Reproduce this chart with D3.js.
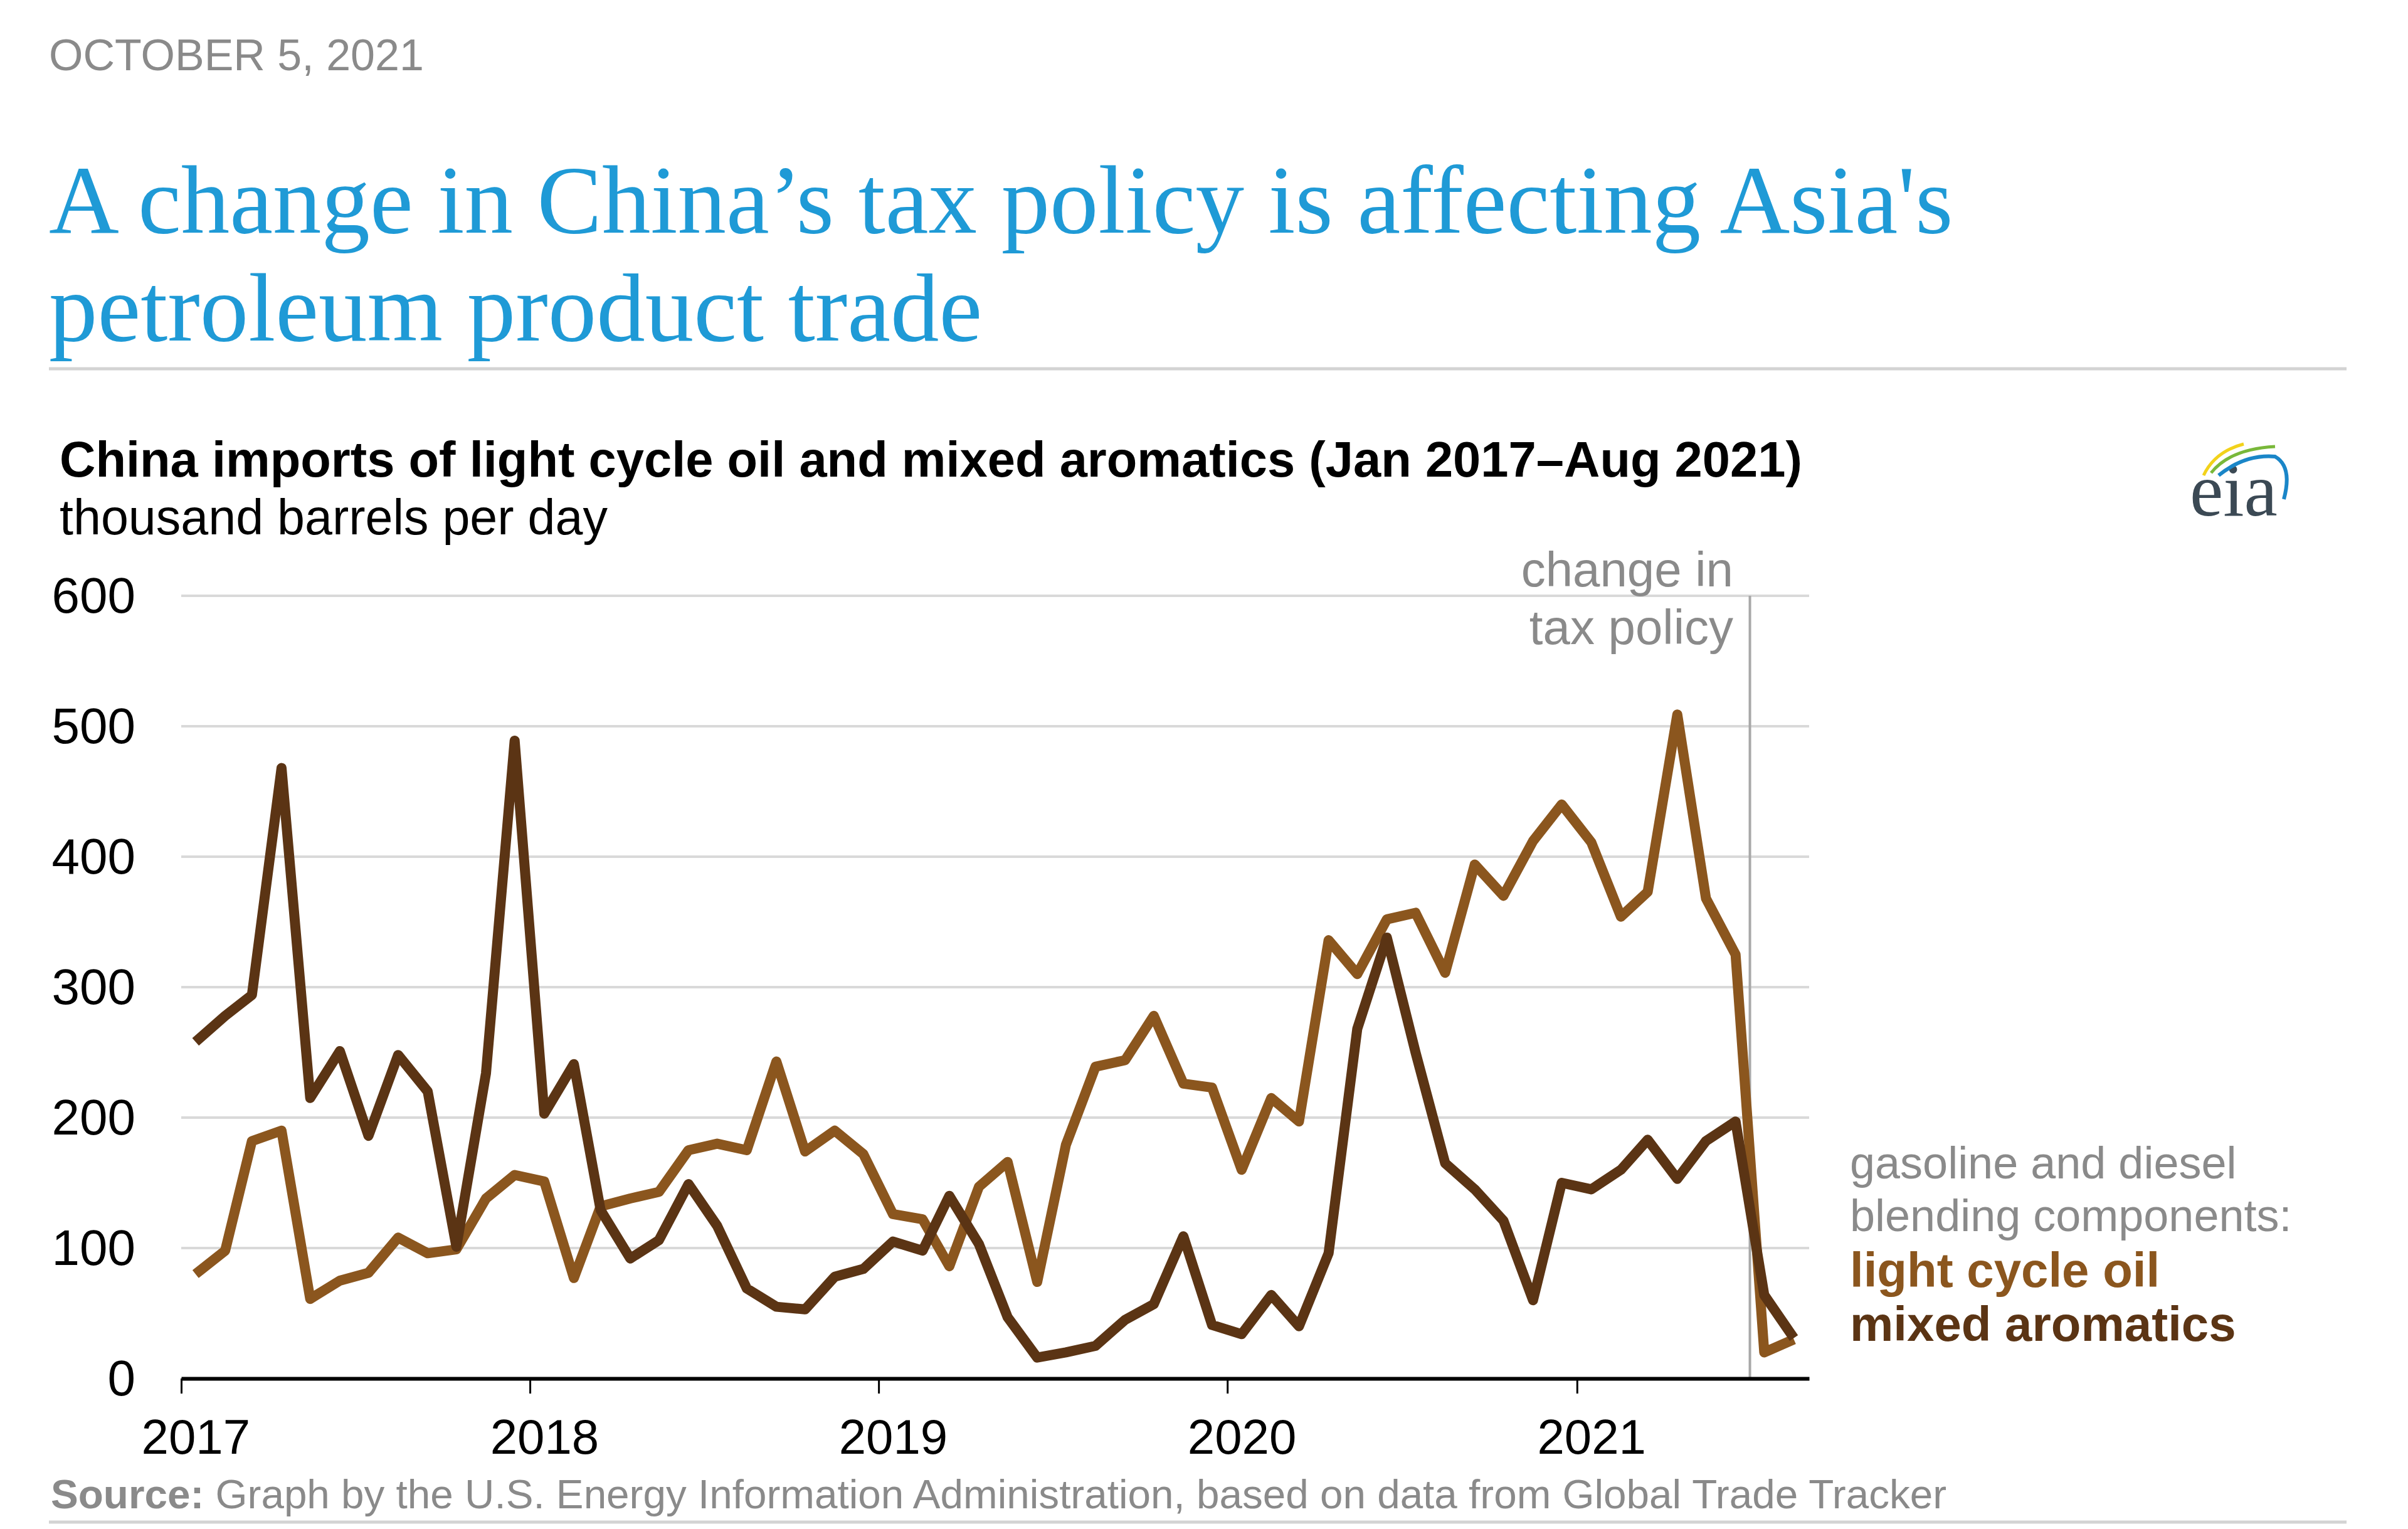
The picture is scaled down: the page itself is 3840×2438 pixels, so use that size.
<!DOCTYPE html>
<html>
<head>
<meta charset="utf-8">
<script src="https://cdn.jsdelivr.net/npm/d3@7"></script>
<style>
  html, body { margin: 0; padding: 0; background: #fff; }
  svg { display: block; }
</style>
</head>
<body>
<svg id="chart" width="3840" height="2438"></svg>
<script>
// ---------------- DATA ----------------
const startYear = 2017;
const months = d3.range(56).map(i => new Date(startYear + Math.floor(i / 12), i % 12, 16));
const yearTicks = [2017, 2018, 2019, 2020, 2021];
const yTicks = [0, 100, 200, 300, 400, 500, 600];

// light cycle oil (thousand b/d), Jan 2017 – Aug 2021
const lightCycleOil = [
  80, 98, 182, 190, 61, 75, 81, 108, 96, 99, 138, 156,
  151, 77, 132, 138, 143, 175, 180, 175, 243, 174, 190, 172,
  126, 122, 86, 147, 166, 74, 179, 239, 244, 278, 226, 223,
  160, 215, 197, 336, 310, 352, 357, 311, 394, 370, 412, 440,
  411, 354, 373, 509, 368, 325, 20, 30
];
// mixed aromatics (thousand b/d), Jan 2017 – Aug 2021
const mixedAromatics = [
  258, 278, 294, 468, 215, 251, 186, 248, 220, 101, 234, 489,
  203, 241, 129, 92, 106, 149, 117, 69, 55, 53, 78, 84,
  105, 98, 140, 103, 47, 16, 20, 25, 45, 57, 109, 41,
  34, 64, 40, 96, 268, 338, 250, 165, 145, 121, 60, 150,
  145, 160, 183, 153, 182, 197, 64, 31
];
const policyChange = new Date(2021, 6, 1);

const dateText = "OCTOBER 5, 2021";
const headline = ["A change in China\u2019s tax policy is affecting Asia's", "petroleum product trade"];
const chartTitle = "China imports of light cycle oil and mixed aromatics (Jan 2017\u2013Aug 2021)";
const unitText = "thousand barrels per day";
const annotation = ["change in", "tax policy"];
const legendIntro = ["gasoline and diesel", "blending components:"];
const seriesNames = ["light cycle oil", "mixed aromatics"];
const sourceBold = "Source:";
const sourceText = " Graph by the U.S. Energy Information Administration, based on data from Global Trade Tracker";

// ---------------- STYLE ----------------
const colLight = "#8B561E";
const colDark = "#5B3414";
const gray = "#8a8a8a";
const sans = "'Liberation Sans', Arial, sans-serif";
const serif = "'Liberation Serif', 'Times New Roman', serif";

const svg = d3.select("#chart");

function fit(sel, target) {
  const n = sel.node();
  const len = n.getComputedTextLength();
  const fs = parseFloat(sel.attr("font-size"));
  sel.attr("font-size", fs * target / len);
}

// header
svg.append("text").attr("x", 78).attr("y", 112)
  .attr("font-family", sans).attr("font-size", 70).attr("fill", gray)
  .text(dateText);

// headline
const probe = svg.append("text").attr("font-family", serif).attr("font-size", 150).text(headline[0]);
const hfs = 150 * 3037 / probe.node().getComputedTextLength();
probe.remove();
svg.append("g").selectAll("text").data(headline).join("text")
  .attr("font-family", serif).attr("font-size", hfs).attr("fill", "#1f9ad6")
  .attr("x", 78).attr("y", (d, i) => 371 + i * Math.ceil(hfs * 1.11))
  .text(d => d);

svg.append("line").attr("x1", 78).attr("x2", 3742).attr("y1", 588).attr("y2", 588)
  .attr("stroke", "#d3d3d3").attr("stroke-width", 5);

// chart title
const ct = svg.append("text").attr("x", 95).attr("y", 760)
  .attr("font-family", sans).attr("font-weight", "bold").attr("font-size", 78).attr("fill", "#000")
  .text(chartTitle);
fit(ct, 2779);
svg.append("text").attr("x", 95).attr("y", 852)
  .attr("font-family", sans).attr("font-size", 79).attr("fill", "#000")
  .text(unitText);

// logo
const logo = svg.append("g");
logo.append("text").attr("x", 3492).attr("y", 822)
  .attr("font-family", serif).attr("font-size", 120).attr("fill", "#3b4954")
  .text("eia");
logo.append("path").attr("d", "M3514,758 Q3532,720 3578,708").attr("fill", "none")
  .attr("stroke", "#f2d21b").attr("stroke-width", 5);
logo.append("path").attr("d", "M3526,754 Q3556,716 3628,712").attr("fill", "none")
  .attr("stroke", "#79b83a").attr("stroke-width", 5);
logo.append("path").attr("d", "M3538,758 Q3580,724 3628,728 Q3656,744 3642,796").attr("fill", "none")
  .attr("stroke", "#1a86c8").attr("stroke-width", 6);

// scales
const x = d3.scaleTime().domain([new Date(2017, 0, 1), new Date(2021, 8, 1)]).range([289, 2885]);
const y = d3.scaleLinear().domain([0, 600]).range([2198, 950]);

// gridlines
svg.append("g").selectAll("line").data(yTicks.filter(d => d > 0)).join("line")
  .attr("x1", 289).attr("x2", 2885)
  .attr("y1", d => y(d)).attr("y2", d => y(d))
  .attr("stroke", "#d9d9d9").attr("stroke-width", 4);

// y axis labels
const yAxis = svg.append("g").attr("transform", "translate(289,0)")
  .call(d3.axisLeft(y).tickValues(yTicks).tickSize(0).tickPadding(73));
yAxis.select(".domain").remove();
yAxis.selectAll("text").attr("font-family", sans).attr("font-size", 80).attr("fill", "#000")
  .attr("dy", "0.33em");

// policy line
svg.append("line").attr("x1", x(policyChange)).attr("x2", x(policyChange))
  .attr("y1", y(600)).attr("y2", y(0))
  .attr("stroke", "#a8a8a8").attr("stroke-width", 4);
svg.append("g").selectAll("text").data(annotation).join("text")
  .attr("x", 2764).attr("y", (d, i) => 935 + i * 92)
  .attr("text-anchor", "end")
  .attr("font-family", sans).attr("font-size", 78).attr("fill", gray)
  .text(d => d);

// lines
const line = d3.line().x((d, i) => x(months[i])).y(d => y(d));
svg.append("path").datum(lightCycleOil).attr("d", line)
  .attr("fill", "none").attr("stroke", colLight).attr("stroke-width", 16)
  .attr("stroke-linejoin", "round");
svg.append("path").datum(mixedAromatics).attr("d", line)
  .attr("fill", "none").attr("stroke", colDark).attr("stroke-width", 16)
  .attr("stroke-linejoin", "round");

// x axis
const half = x(new Date(2017, 0, 16)) - x(new Date(2017, 0, 1));
const xAxis = svg.append("g").attr("transform", "translate(0,2198)")
  .call(d3.axisBottom(x)
    .tickValues(yearTicks.map(yy => new Date(yy, 0, 1)))
    .tickFormat(d3.timeFormat("%Y"))
    .tickSizeInner(24).tickSizeOuter(0));
xAxis.select(".domain").attr("stroke", "#000").attr("stroke-width", 6);
xAxis.selectAll(".tick line").attr("stroke", "#000").attr("stroke-width", 3);
xAxis.selectAll("text").attr("font-family", sans).attr("font-size", 78).attr("fill", "#000")
  .attr("x", half).attr("y", 120).attr("dy", 0);

// legend
svg.append("g").selectAll("text").data(legendIntro).join("text")
  .attr("x", 2950).attr("y", (d, i) => 1879 + i * 84)
  .attr("font-family", sans).attr("font-size", 72).attr("fill", gray)
  .text(d => d);
svg.append("g").selectAll("text").data(seriesNames).join("text")
  .attr("x", 2950).attr("y", (d, i) => 2052 + i * 86)
  .attr("font-family", sans).attr("font-weight", "bold").attr("font-size", 78)
  .attr("fill", (d, i) => i === 0 ? colLight : colDark)
  .text(d => d);

// source
const src = svg.append("text").attr("x", 81).attr("y", 2405)
  .attr("font-family", sans).attr("font-size", 62).attr("fill", gray);
src.append("tspan").attr("font-weight", "bold").text(sourceBold);
src.append("tspan").text(sourceText);
fit(src, 3024);

svg.append("line").attr("x1", 78).attr("x2", 3742).attr("y1", 2427).attr("y2", 2427)
  .attr("stroke", "#d3d3d3").attr("stroke-width", 5);
</script>
</body>
</html>
